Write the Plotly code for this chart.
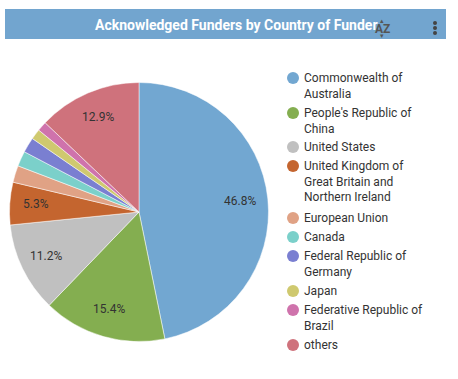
import math
import plotly.graph_objects as go

categories = ["Commonwealth of<br>Australia", "People's Republic of<br>China", "United States",
              "United Kingdom of<br>Great Britain and<br>Northern Ireland", "European Union", "Canada",
              "Federal Republic of<br>Germany", "Japan", "Federative Republic of<br>Brazil", "others"]
values = [46.8, 15.4, 11.2, 5.3, 2.1, 1.9, 1.9, 1.3, 1.2, 12.9]
colors = ["#72a7d1", "#84ae50", "#c0c0c0", "#c4652f", "#e0a285", "#7bd0ca", "#7a7fd1", "#cfc96f", "#cf73ac", "#cf727c"]
title = "Acknowledged Funders by Country of Funder"
legend_y = [78, 113, 147, 166, 218, 237, 256, 291, 310, 345]

W, H = 458, 379
FONT = "Roboto, sans-serif"
cx, cy, r = 139, 212, 129.5

fig = go.Figure(go.Pie(
    labels=[c.replace("<br>", " ") for c in categories], values=values, sort=False, direction="clockwise",
    rotation=0, marker=dict(colors=colors, line=dict(color="white", width=0.5)),
    textinfo="none",
    domain=dict(x=[(cx - r) / W, (cx + r) / W], y=[1 - (cy + r) / H, 1 - (cy - r) / H]),
    showlegend=False, hoverinfo="label+percent"))

shapes = [dict(type="rect", xref="paper", yref="paper", x0=5 / W, x1=446 / W, y0=1 - 39 / H, y1=1 - 9 / H,
               fillcolor="#72a5cf", line_width=0, layer="below")]
for py in (23, 28, 33):
    shapes.append(dict(type="circle", xref="paper", yref="paper", x0=433 / W, x1=437 / W,
                       y0=1 - (py + 2) / H, y1=1 - (py - 2) / H, fillcolor="#444444", line_width=0))
annotations = [dict(text=f"<b>{title}</b>", x=236.5 / W, y=1 - 25 / H, xref="paper", yref="paper", showarrow=False,
                    xanchor="center", yanchor="middle", font=dict(family=FONT, size=14, color="white")),
               dict(text="<b>AZ</b>", x=382.5 / W, y=1 - 29 / H, xref="paper", yref="paper", showarrow=False,
                    xanchor="center", yanchor="middle", font=dict(family=FONT, size=12, color="#555555")),
               dict(text="▴", x=382 / W, y=1 - 21 / H, xref="paper", yref="paper", showarrow=False,
                    xanchor="center", yanchor="middle", font=dict(family=FONT, size=7, color="#555555")),
               dict(text="▾", x=382 / W, y=1 - 36 / H, xref="paper", yref="paper", showarrow=False,
                    xanchor="center", yanchor="middle", font=dict(family=FONT, size=7, color="#555555"))]

# percentage labels sit near 0.8 of the radius, on each slice's mid-angle; small slices carry no label
total = sum(values)
running = 0
for v in values:
    mid = (running + v / 2) / total * 2 * math.pi
    running += v
    if v >= 5:
        lx = cx + 0.79 * r * math.sin(mid) - 1
        ly = cy - 0.79 * r * math.cos(mid) - 1
        annotations.append(dict(text=f"{v}%", x=lx / W, y=1 - ly / H, xref="paper", yref="paper", showarrow=False,
                                xanchor="center", yanchor="middle", font=dict(family=FONT, size=12, color="#333333")))

for c, col, py in zip(categories, colors, legend_y):
    shapes.append(dict(type="circle", xref="paper", yref="paper", x0=287 / W, x1=299 / W,
                       y0=1 - (py + 6) / H, y1=1 - (py - 6) / H, fillcolor=col, line_width=0))
    annotations.append(dict(text=c, x=302.5 / W, y=1 - (py - 8) / H, xref="paper", yref="paper", showarrow=False,
                            xanchor="left", yanchor="top", align="left",
                            font=dict(family=FONT, size=12, color="#333333"), borderpad=0))

fig.update_layout(width=W, height=H, margin=dict(l=0, r=0, t=0, b=0), paper_bgcolor="white",
                  shapes=shapes, annotations=annotations)
fig.write_html("out.html", post_script="document.body.style.margin='0';document.body.style.overflow='hidden';", config=dict(displayModeBar=False))
